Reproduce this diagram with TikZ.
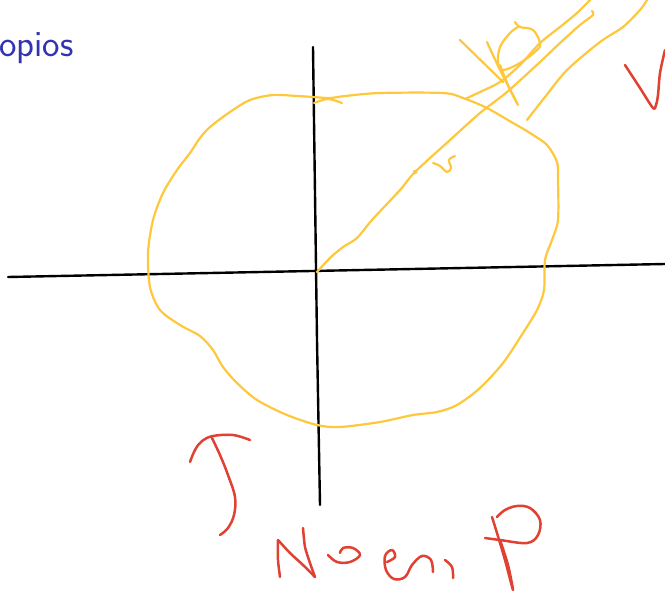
\documentclass[tikz,border=0pt]{standalone}
\usepackage{fontspec}
\definecolor{penyel}{RGB}{255,200,60}
\definecolor{penred}{RGB}{225,65,50}
\definecolor{titleblue}{RGB}{51,51,178}
\begin{document}
\begin{tikzpicture}[x=1pt,y=-1pt,
  axis/.style={line width=2.4pt,black,line cap=round},
  yel/.style={line width=2.2pt,penyel,line cap=round,line join=round},
  red/.style={line width=2.5pt,penred,line cap=round,line join=round}]
\useasboundingbox (0,0) rectangle (665,592);
% title fragment
\node[anchor=base west,inner sep=0pt,text=titleblue,font=\sffamily\fontsize{37}{44}\selectfont] (title) at (-1,56) {opios};
% axes
\draw[axis] (8,277) -- (665,264);
\draw[axis] (313,47) -- (317,340) -- (320,505);
% closed yellow curve
\draw[yel] plot[smooth cycle,tension=0.5] coordinates {(313,97) (297,96) (273,95) (250,100) (230,112) (210,127) (200,138) (190,153) (177,170) (163,193) (153,220) (148,253) (150,287) (160,310) (180,325) (200,336) (213,350) (223,367) (237,383) (257,400) (287,415) (317,425) (340,427) (380,422) (413,415) (437,412) (457,405) (480,388) (503,363) (523,333) (537,310) (544,290) (545,260) (552,240) (558,220) (558,180) (557,162) (547,145) (530,133) (513,123) (487,108) (463,98) (443,93) (380,93) (345,96) (330,98)};
\draw[yel] plot[smooth] coordinates {(314,103) (328,99) (342,103)};
% main diagonal
\draw[yel] plot[smooth,tension=0.5] coordinates {(317,272) (330,258) (343,247) (357,238) (372,220) (400,190) (415,172) (450,140) (480,113) (507,92) (540,62) (560,43) (580,25) (593,15) (592,11)};
\fill[penyel] (415,172) circle (2.2pt);
% vector label
\draw[yel] plot[smooth,tension=0.6] coordinates {(433,163) (440,166) (447,172) (451,168) (449,160) (455,156)};
% second and third lines
\draw[yel] plot[smooth,tension=0.5] coordinates {(465,99) (480,92) (500,82) (520,65) (540,43) (560,27) (577,13) (590,0)};
\draw[yel] plot[smooth,tension=0.5] coordinates {(527,120) (545,97) (567,70) (600,42) (623,27) (640,10) (647,0)};
% scribble
\draw[yel] (460,40) -- (503,82);
\draw[yel] plot[smooth] coordinates {(487,42) (500,70) (518,105)};
\draw[yel] plot[smooth] coordinates {(500,65) (508,85) (517,103)};
\draw[yel] plot[smooth,tension=0.6] coordinates {(515,22) (520,27) (533,30) (540,43) (537,50) (520,63) (503,70) (498,63) (500,47) (510,33) (518,27)};
% red marks right
\draw[red] plot[smooth,tension=0.5] coordinates {(625,65) (640,88) (653,108) (656,105) (658,95) (660,73) (665,50)};
% red mark bottom left
\draw[red] plot[smooth,tension=0.6] coordinates {(190,462) (195,450) (202,441) (213,436) (233,435) (250,440)};
\draw[red] plot[smooth,tension=0.6] coordinates {(212,438) (220,455) (228,475) (235,497) (234,515) (228,528) (220,535)};
% red word
\draw[red] plot[smooth,tension=0.4] coordinates {(280,577) (278,560) (278,540)};
\draw[red] plot[smooth,tension=0.4] coordinates {(278,540) (290,553) (303,565) (315,577)};
\draw[red] plot[smooth,tension=0.4] coordinates {(315,577) (310,563) (305,547) (303,528)};
\draw[red] plot[smooth,tension=0.6] coordinates {(328,555) (337,562) (350,562) (360,555) (353,548) (343,548) (340,553)};
\draw[red] plot[smooth,tension=0.6] coordinates {(387,562) (395,557) (392,550) (385,556) (386,570) (394,579) (405,577) (412,565) (422,556) (431,560) (433,572)};
\draw[red] plot[smooth,tension=0.6] coordinates {(445,560) (452,567) (453,578)};
\draw[red] plot[smooth,tension=0.5] coordinates {(492,517) (497,533) (505,560) (513,590) (508,565) (500,540)};
\draw[red] plot[smooth,tension=0.6] coordinates {(485,538) (500,540) (527,543) (538,535) (540,520) (530,508) (517,506) (505,510) (497,517)};
\end{tikzpicture}
\end{document}
